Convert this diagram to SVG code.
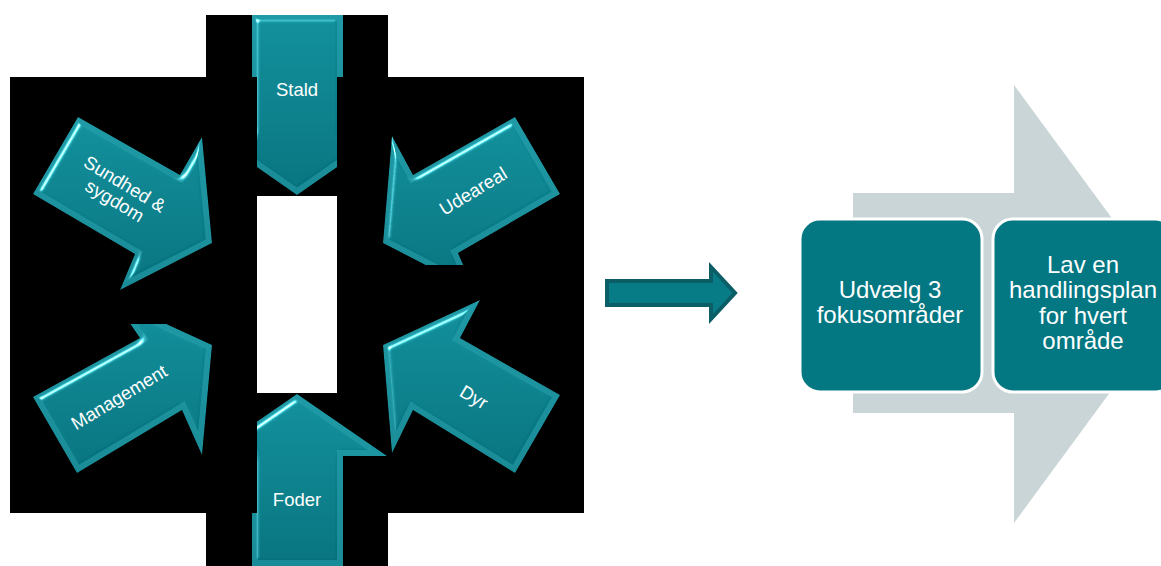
<svg xmlns="http://www.w3.org/2000/svg" xmlns:xlink="http://www.w3.org/1999/xlink" width="1161" height="566" viewBox="0 0 1161 566">
<style>
.face{fill:url(#faceGrad);}
.bevel{fill:none;stroke:#2fa7b3;stroke-opacity:0.5;stroke-width:12;stroke-linejoin:miter;}
.shade{filter:url(#bev);}
.lbl{font-family:"Liberation Sans",Arial,sans-serif;font-size:18.5px;fill:#ffffff;text-anchor:middle;}
.big{font-family:"Liberation Sans",Arial,sans-serif;font-size:24px;fill:#ffffff;text-anchor:middle;}
.box{fill:#037782;stroke:#ffffff;stroke-width:3;}
</style>
<defs>
<linearGradient id="faceGrad" x1="0" y1="0" x2="0" y2="1">
<stop offset="0" stop-color="#0e8c98"/>
<stop offset="1" stop-color="#04707b"/>
</linearGradient>
<filter id="bev" x="-10%" y="-10%" width="120%" height="120%" color-interpolation-filters="sRGB">
<feGaussianBlur in="SourceAlpha" stdDeviation="3" result="b"/>
<feSpecularLighting in="b" surfaceScale="6" specularConstant="1.2" specularExponent="40" lighting-color="#d2f8fb" result="s">
<feDistantLight azimuth="225" elevation="40"/>
</feSpecularLighting>
<feComposite in="s" in2="SourceAlpha" operator="in" result="s2"/>
<feComposite in="SourceGraphic" in2="s2" operator="arithmetic" k1="0" k2="1" k3="0.9" k4="0"/>
</filter>
<path id="pStald" d="M252,15 H343 V133 H386 L297,195 L208,133 H252 Z"/>
<path id="pFoder" d="M297,394 L387,456 H343 V566 H252 V456 H207 Z"/>
<path id="pSund" d="M78,117 L180,175 L202,137 L212,243 L120,290 L135,254 L33,194 Z"/>
<path id="pUde" d="M515,117 L560,194 L458,253 L474,290 L383,243 L392,136 L413,175 Z"/>
<path id="pMgmt" d="M33,397 L140,338 L114,300 L212,345 L202,455 L182,410 L77,473 Z"/>
<path id="pDyr" d="M480,300 L460,338 L560,395 L515,473 L413,410 L392,453 L383,345 Z"/>
<clipPath id="cStald"><path d="M252,15 H343 V133 H386 L297,195 L208,133 H252 Z"/></clipPath>
<clipPath id="cFoder"><path d="M297,394 L387,456 H343 V566 H252 V456 H207 Z"/></clipPath>
<clipPath id="cSund"><path d="M78,117 L180,175 L202,137 L212,243 L120,290 L135,254 L33,194 Z"/></clipPath>
<clipPath id="cUde"><path d="M515,117 L560,194 L458,253 L474,290 L383,243 L392,136 L413,175 Z"/></clipPath>
<clipPath id="cMgmt"><path d="M33,397 L140,338 L114,300 L212,345 L202,455 L182,410 L77,473 Z"/></clipPath>
<clipPath id="cDyr"><path d="M480,300 L460,338 L560,395 L515,473 L413,410 L392,453 L383,345 Z"/></clipPath>
<clipPath id="rStald"><path d="M0,0 H1161 V77 H337 V566 H257 V77 H0 Z"/></clipPath>
<clipPath id="rFoder"><path d="M257,0 H1161 V566 H0 V513 H257 Z"/></clipPath>
<clipPath id="rUde"><rect x="0" y="0" width="1161" height="265"/></clipPath>
<clipPath id="rMgmt"><rect x="0" y="324" width="1161" height="242"/></clipPath>
</defs>

<path id="background" d="M10,77H206V15H388V77H584V513H388V566H206V513H10Z M257,196V393H337V196Z" fill="#000000" fill-rule="evenodd"/>

<g id="stald">
<g clip-path="url(#rStald)"><g class="shade"><g clip-path="url(#cStald)">
<use xlink:href="#pStald" class="face"/>
<use xlink:href="#pStald" class="bevel"/>
</g></g></g>
<text class="lbl" x="297" y="96">Stald</text>
</g>

<g id="foder">
<g clip-path="url(#rFoder)"><g class="shade"><g clip-path="url(#cFoder)">
<use xlink:href="#pFoder" class="face"/>
<use xlink:href="#pFoder" class="bevel"/>
</g></g></g>
<text class="lbl" x="297" y="506">Foder</text>
</g>

<g id="sundhed">
<g class="shade"><g clip-path="url(#cSund)">
<use xlink:href="#pSund" class="face"/>
<use xlink:href="#pSund" class="bevel"/>
</g></g>
<g transform="translate(120,192) rotate(31)">
<text class="lbl" x="0" y="-3">Sundhed &amp;</text>
<text class="lbl" x="0" y="16.5">sygdom</text>
</g>
</g>

<g id="udeareal">
<g clip-path="url(#rUde)"><g class="shade"><g clip-path="url(#cUde)">
<use xlink:href="#pUde" class="face"/>
<use xlink:href="#pUde" class="bevel"/>
</g></g></g>
<text class="lbl" transform="translate(473,191) rotate(-31)" x="0" y="6.5">Udeareal</text>
</g>

<g id="management">
<g clip-path="url(#rMgmt)"><g class="shade"><g clip-path="url(#cMgmt)">
<use xlink:href="#pMgmt" class="face"/>
<use xlink:href="#pMgmt" class="bevel"/>
</g></g></g>
<text class="lbl" transform="translate(119,397) rotate(-31)" x="0" y="6.5">Management</text>
</g>

<g id="dyr">
<g class="shade"><g clip-path="url(#cDyr)">
<use xlink:href="#pDyr" class="face"/>
<use xlink:href="#pDyr" class="bevel"/>
</g></g>
<text class="lbl" transform="translate(474,397) rotate(31)" x="0" y="6.5">Dyr</text>
</g>

<g id="connectors">
<path id="flowArrow" d="M607,281 H711 V267 L735,293 L711,319 V305 H607 Z" fill="#077c86" stroke="#0b5d66" stroke-width="4" stroke-linejoin="miter"/>
</g>

<g id="process">
<path id="bigArrow" d="M853,193 H1014 V85 L1175,304 L1014,523 V413 H853 Z" fill="#c9d5d6"/>
<g id="step1">
<rect class="box" x="800" y="219" width="182" height="173" rx="20" ry="20"/>
<text class="big" x="890" y="297.5">Udvælg 3</text>
<text class="big" x="890" y="323">fokusområder</text>
</g>
<g id="step2">
<rect class="box" x="993" y="219" width="182" height="173" rx="20" ry="20"/>
<text class="big" x="1083" y="272.5">Lav en</text>
<text class="big" x="1083" y="298">handlingsplan</text>
<text class="big" x="1083" y="323.5">for hvert</text>
<text class="big" x="1083" y="349">område</text>
</g>
</g>
</svg>
